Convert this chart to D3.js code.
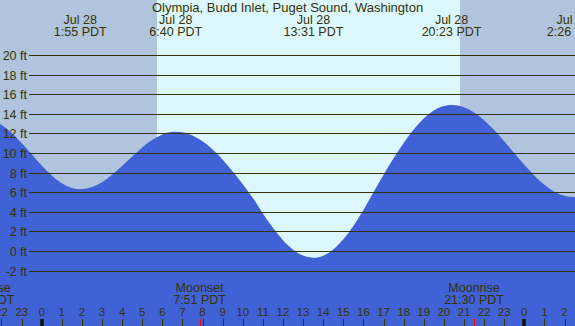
<!DOCTYPE html>
<html>
<head>
<meta charset="utf-8">
<script src="https://cdn.jsdelivr.net/npm/d3@7"></script>
<style>
html,body{margin:0;padding:0;background:#fff;}
svg{display:block;font-family:"Liberation Sans",Arial,sans-serif;}
</style>
</head>
<body>
<svg id="chart" width="575" height="326"></svg>
<script>
// ---- data (hours since midnight Jul 28, PDT) ----
const tideHours = [-3, -2.5, -2, -1.5, -1, -0.5, 0, 0.5, 1, 1.5, 1.917,
  2.5, 3, 3.5, 4, 4.5, 5, 5.5, 6, 6.5, 6.667,
  7, 7.5, 8, 8.5, 9, 9.5, 10, 10.5, 11, 11.5, 12, 12.5, 13, 13.517,
  14, 14.5, 15, 15.5, 16, 16.5, 17, 17.5, 18, 18.5, 19, 19.5, 20, 20.383,
  21, 21.5, 22, 22.5, 23, 23.5, 24, 24.5, 25, 25.5, 26, 26.433, 27];
const tideFeet = [13.6, 13.42, 12.88, 12.05, 11.0, 9.85, 8.71, 7.69, 6.9, 6.42, 6.29,
  6.51, 7.01, 7.76, 8.67, 9.63, 10.56, 11.34, 11.89, 12.15, 12.17,
  12.11, 11.78, 11.18, 10.34, 9.31, 8.11, 6.81, 5.41, 3.82, 2.35, 1.08, 0.13, -0.48, -0.7,
  -0.49, 0.15, 1.18, 2.55, 4.18, 5.98, 7.78, 9.46, 11.01, 12.39, 13.52, 14.33, 14.79, 14.9,
  14.66, 14.13, 13.34, 12.33, 11.19, 9.98, 8.78, 7.67, 6.74, 6.04, 5.62, 5.5, 5.75];
const sunrise = 5.733, sunset = 20.8;           // daylight limits
const ftTicks = [20, 18, 16, 14, 12, 10, 8, 6, 4, 2, 0, -2];
const hourTicks = d3.range(-2, 27);
const topLabels = [
  {h: 1.917, d: "Jul 28", t: "1:55 PDT"},
  {h: 6.667, d: "Jul 28", t: "6:40 PDT"},
  {h: 13.517, d: "Jul 28", t: "13:31 PDT"},
  {h: 20.383, d: "Jul 28", t: "20:23 PDT"},
  {h: 26.433, d: "Jul 29", t: "2:26 PDT"}
];
const moonEvents = [
  {h: -2.82, name: "Moonrise", t: "21:11 PDT", tick: false},
  {h: 7.85, name: "Moonset", t: "7:51 PDT", tick: true},
  {h: 21.5, name: "Moonrise", t: "21:30 PDT", tick: true}
];
const title = "Olympia, Budd Inlet, Puget Sound, Washington";

// ---- layout ----
const W = 575, H = 326;
const svg = d3.select("#chart");
const x = d3.scaleLinear().domain([0, 24]).range([41.7, 524.3]);
const y = d3.scaleLinear().domain([-2, 20]).range([270.5, 54.9]);
const ink = "#333300";

// night background
svg.append("rect").attr("x", 0).attr("y", 0).attr("width", W).attr("height", H).attr("fill", "#b0c4de");
// day
svg.append("rect").attr("x", x(sunrise)).attr("y", 0)
  .attr("width", x(sunset) - x(sunrise)).attr("height", H).attr("fill", "#ddf7ff");

// tide area
const pts = tideHours.map((h, i) => [h, tideFeet[i]]);
const area = d3.area().x(d => x(d[0])).y0(H).y1(d => y(d[1])).curve(d3.curveMonotoneX);
svg.append("path").datum(pts).attr("d", area).attr("fill", "#4161d6");

// grid lines + ft labels
const g = svg.append("g");
ftTicks.forEach(f => {
  const yy = Math.round(y(f)) + 0.5;
  g.append("line").attr("x1", 29).attr("x2", W).attr("y1", yy).attr("y2", yy)
    .attr("stroke", ink).attr("stroke-width", 1);
  g.append("text").attr("x", 27).attr("y", yy + 4.5).attr("text-anchor", "end")
    .attr("font-size", 12.5).attr("fill", ink).text(f + " ft");
});

// title
svg.append("text").attr("x", 287.5).attr("y", 12).attr("text-anchor", "middle")
  .attr("font-size", 13).attr("fill", ink).text(title);

// tide extreme labels
topLabels.forEach(l => {
  svg.append("text").attr("x", x(l.h)).attr("y", 24).attr("text-anchor", "middle")
    .attr("font-size", 12.5).attr("fill", ink).text(l.d);
  svg.append("text").attr("x", x(l.h)).attr("y", 36).attr("text-anchor", "middle")
    .attr("font-size", 12.5).attr("fill", ink).text(l.t);
});

// moon labels
moonEvents.forEach(m => {
  svg.append("text").attr("x", x(m.h)).attr("y", 292).attr("text-anchor", "middle")
    .attr("font-size", 12.5).attr("fill", ink).text(m.name);
  svg.append("text").attr("x", x(m.h)).attr("y", 304).attr("text-anchor", "middle")
    .attr("font-size", 12.5).attr("fill", ink).text(m.t);
});

// hour ticks + labels
hourTicks.forEach(h => {
  const hh = ((h % 24) + 24) % 24;
  const xx = Math.round(x(h));
  const mid = hh === 0;
  svg.append("line").attr("x1", mid ? xx : xx + 0.5).attr("x2", mid ? xx : xx + 0.5)
    .attr("y1", 319).attr("y2", H)
    .attr("stroke", mid ? "#111100" : ink).attr("stroke-width", mid ? 3.5 : 1);
  svg.append("text").attr("x", x(h)).attr("y", 316).attr("text-anchor", "middle")
    .attr("font-size", 11.5).attr("fill", ink).text(hh);
});
moonEvents.filter(m => m.tick).forEach(m => {
  const xx = Math.round(x(m.h)) + 0.5;
  svg.append("line").attr("x1", xx).attr("x2", xx).attr("y1", 319).attr("y2", H)
    .attr("stroke", "#ff0000").attr("stroke-width", 1);
});
</script>
</body>
</html>
